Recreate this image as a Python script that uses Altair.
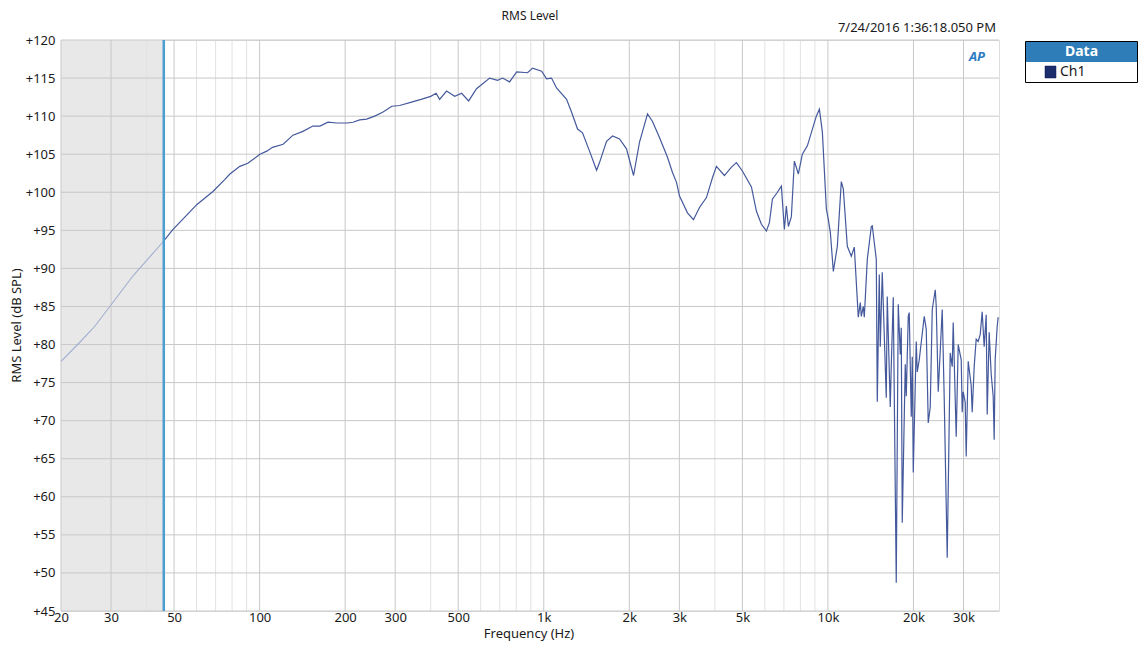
import altair as alt
import pandas as pd

# ---------------- data ----------------
freq_hz = [20, 23.3, 26.3, 29.7, 35.8, 46.0, 49.5, 60.2, 68.5, 75.5, 78.6, 85.2, 90.9,
           100.2, 106, 111, 121, 131, 142, 154, 163, 174, 187, 203, 213, 225, 238, 254,
           271, 292, 311, 340, 370, 400, 418, 430, 455, 486, 514, 544, 580, 645, 688,
           716, 758, 803, 877, 913, 983, 1023, 1065, 1109, 1203, 1253, 1315, 1369, 1449,
           1534, 1571, 1663, 1746, 1848, 1955, 2070, 2173, 2318, 2414, 2554, 2725, 2838,
           2932, 3004, 3204, 3364, 3532, 3737, 3923, 4051, 4322, 4576, 4764, 5000, 5380,
           5603, 5833, 6074, 6224, 6377, 6640, 6858, 7027, 7140, 7258, 7436, 7620, 7870,
           8128, 8466, 9102, 9333, 9560, 9874, 10034, 10200, 10448, 10792, 11146, 11330,
           11702, 12086, 12384, 12790, 13000, 13106, 13320, 13428, 13760, 14212, 14326,
           14798, 14918, 15160, 15284, 15532, 16044, 16174, 16572, 16706, 16980, 17396,
           17682, 17972, 18118, 18264, 18714, 18866, 19174, 19328, 19648, 19808, 19968,
           20458, 20626, 20962, 21304, 21828, 22184, 22546, 22914, 23290, 23862, 24056,
           24448, 25252, 25664, 26294, 26940, 27380, 27602, 28280, 28742, 29450, 29688,
           29930, 30416, 30664, 31166, 31930, 32190, 32714, 33248, 33788, 34344, 34904,
           35472, 36060, 36352, 36942, 37548, 38160, 38470, 38780, 39418, 39738]

level_db = [77.8, 80.3, 82.4, 85.0, 89.0, 93.6, 95.1, 98.4, 100.1, 101.7, 102.4, 103.4, 103.8,
            105.0, 105.4, 105.9, 106.3, 107.5, 108.0, 108.7, 108.7, 109.2, 109.1, 109.1, 109.2,
            109.5, 109.6, 110.0, 110.5, 111.3, 111.4, 111.8, 112.2, 112.6, 113.0, 112.2, 113.3,
            112.6, 113.0, 112.0, 113.6, 115.0, 114.7, 115.0, 114.5, 115.8, 115.7, 116.3, 115.9,
            114.9, 115.0, 113.7, 112.2, 110.5, 108.3, 107.8, 105.4, 102.9, 103.9, 106.7, 107.4,
            107.0, 105.7, 102.2, 106.6, 110.3, 109.3, 107.2, 104.6, 102.6, 101.3, 99.5, 97.3,
            96.4, 98.0, 99.3, 101.9, 103.4, 102.2, 103.3, 103.9, 102.8, 100.7, 97.5, 95.8, 94.9,
            96.0, 99.1, 100.0, 100.8, 95.1, 98.2, 95.5, 96.8, 104.1, 102.4, 105.0, 106.1, 110.0,
            110.9, 107.9, 97.8, 96.4, 94.7, 89.6, 92.9, 101.4, 100.4, 92.9, 91.6, 92.8, 83.6,
            85.5, 83.7, 85.0, 83.6, 91.2, 95.5, 95.6, 91.2, 72.5, 89.2, 79.7, 89.5, 73.0, 86.3,
            71.8, 77.1, 86.2, 48.7, 85.3, 78.7, 82.2, 56.6, 77.4, 73.2, 83.7, 84.2, 70.5, 78.4,
            63.2, 80.4, 76.4, 78.0, 80.3, 83.7, 82.0, 69.7, 71.8, 84.6, 87.2, 85.0, 73.8, 84.6,
            72.8, 52.0, 78.9, 77.1, 82.9, 67.9, 80.0, 78.0, 71.1, 73.8, 72.4, 65.3, 77.8, 74.6,
            71.1, 77.1, 80.7, 80.4, 81.3, 84.3, 79.7, 83.9, 70.8, 81.6, 76.1, 73.2, 67.5, 78.0,
            82.4, 83.6]

x_major_ticks = [20, 30, 50, 100, 200, 300, 500, 1000, 2000, 3000, 5000, 10000, 20000, 30000]
x_minor_ticks = [40, 60, 70, 80, 90, 400, 600, 700, 800, 900, 4000, 6000, 7000, 8000, 9000]
y_ticks = [45, 50, 55, 60, 65, 70, 75, 80, 85, 90, 95, 100, 105, 110, 115, 120]
x_domain = [20, 40000]
y_domain = [45, 120]
cursor_hz = [46.0]
shade_from_hz = [20]

title_text = "RMS Level"
date_text = "7/24/2016 1:36:18.050 PM"
x_title = "Frequency (Hz)"
y_title = "RMS Level (dB SPL)"
legend_title = "Data"
legend_items = ["Ch1"]

# ---------------- styling ----------------
W, H = 938, 571
FONT = "Noto Sans"
TXT = "#1a1a1a"
LINE = "#44599c"

df = pd.DataFrame({"f": freq_hz, "db": level_db})

xs = alt.Scale(type="log", domain=x_domain, nice=False)
ys = alt.Scale(domain=y_domain, nice=False, zero=False)
xax = alt.Axis(values=x_major_ticks,
               labelExpr="datum.value >= 1000 ? (datum.value / 1000) + 'k' : '' + datum.value",
               grid=False, ticks=False, domain=False, title=None, labelFont=FONT,
               labelFontSize=13, labelColor=TXT, labelPadding=0, labelFlush=False,
               labelOverlap=False)
yax = alt.Axis(values=y_ticks, labelExpr="'+' + datum.value", grid=False, ticks=False,
               domain=False, title=None, labelFont=FONT, labelFontSize=13, labelColor=TXT,
               labelPadding=6, labelFlush=False, labelOverlap=False)

X = lambda fld="f": alt.X(f"{fld}:Q", scale=xs, axis=xax)
Y = lambda fld="db": alt.Y(f"{fld}:Q", scale=ys, axis=yax)

shade = alt.Chart(pd.DataFrame({"f": shade_from_hz, "f2": cursor_hz})).mark_rect(
    color="#e8e8e8").encode(x=X(), x2="f2:Q", y=alt.value(0), y2=alt.value(H))

minor_grid = alt.Chart(pd.DataFrame({"f": x_minor_ticks})).mark_rule(
    color="#e2e2e2", strokeWidth=1).encode(x=X(), y=alt.value(0), y2=alt.value(H))
major_grid = alt.Chart(pd.DataFrame({"f": x_major_ticks})).mark_rule(
    color="#c8c8c8", strokeWidth=1).encode(x=X(), y=alt.value(0), y2=alt.value(H))
y_grid = alt.Chart(pd.DataFrame({"db": y_ticks})).mark_rule(
    color="#c8c8c8", strokeWidth=1).encode(y=Y(), x=alt.value(0), x2=alt.value(W))

line_dim = alt.Chart(df).transform_filter(alt.datum.f <= cursor_hz[0]).mark_line(
    color="#a3aed0", strokeWidth=1.1).encode(x=X(), y=Y())
line_main = alt.Chart(df).transform_filter(alt.datum.f >= cursor_hz[0]).mark_line(
    color=LINE, strokeWidth=1.2).encode(x=X(), y=Y())

cursor = alt.Chart(pd.DataFrame({"f": cursor_hz})).mark_rule(
    color="#4b9dd2", strokeWidth=2.5).encode(x=X(), y=alt.value(0), y2=alt.value(H))


def txt(s, x, y, **kw):
    return alt.Chart(pd.DataFrame({"t": [s]})).mark_text(font=FONT, **kw).encode(
        text="t:N", x=alt.value(x), y=alt.value(y))


def box(x1, y1, x2, y2, **kw):
    return alt.Chart(pd.DataFrame({"a": [0]})).mark_rect(**kw).encode(
        x=alt.value(x1), x2=alt.value(x2), y=alt.value(y1), y2=alt.value(y2))


texts = [
    txt(title_text, W / 2, -29, fontSize=12, color=TXT, align="center", baseline="top"),
    txt(date_text, 935, -12, fontSize=13, color=TXT, align="right", baseline="middle"),
    txt("AP", 916, 17, fontSize=13, color="#2b7cc3", align="center", baseline="middle",
        fontStyle="italic", fontWeight="bold"),
    txt(y_title, -44, H / 2, fontSize=13, color=TXT, align="center", baseline="middle",
        angle=270),
    txt(x_title, 468, H + 27, fontSize=13, color=TXT, align="center",
        baseline="alphabetic"),
]

legend = [
    box(964.5, 1.5, 1076.5, 42.5, fill="white", stroke="black", strokeWidth=1),
    box(965, 2, 1076, 22, fill="#2f7db8"),
    txt(legend_title, 1020.5, 12, fontSize=14, fontWeight="bold", color="white",
        align="center", baseline="middle"),
    box(984, 26, 995, 38, fill="#1c2d6b", stroke="#0f1c4d", strokeWidth=0.5),
    txt(legend_items[0], 999, 32, fontSize=14, color=TXT, align="left", baseline="middle"),
]

chart = alt.layer(shade, minor_grid, major_grid, y_grid, line_dim, line_main, cursor,
                  *texts, *legend).properties(
    width=W, height=H,
    padding={"left": 53, "top": 32, "right": 139, "bottom": 31},
    autosize=alt.AutoSizeParams(type="none"),
).configure_view(stroke="#7a7a7a", strokeWidth=1).configure(background="white")

chart.save("out.html", embed_options={"renderer": "svg", "actions": False})
